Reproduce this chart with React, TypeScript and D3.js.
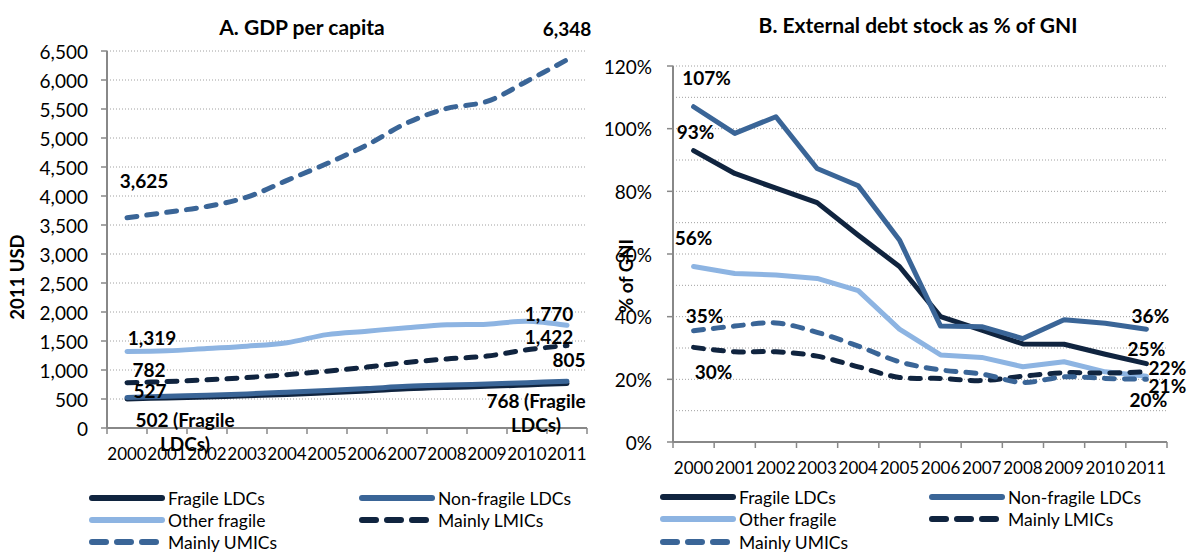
import { curveCatmullRom, curveLinear, line, scaleBand, scaleLinear } from "d3";

const years = ["2000", "2001", "2002", "2003", "2004", "2005", "2006", "2007", "2008", "2009", "2010", "2011"];

const seriesNames = ["Fragile LDCs", "Non-fragile LDCs", "Other fragile", "Mainly LMICs", "Mainly UMICs"];

// Panel A: GDP per capita, 2011 USD
const gdpFragileLdc = [502, 518, 536, 556, 578, 606, 638, 676, 700, 718, 742, 768];
const gdpNonFragileLdc = [527, 548, 566, 588, 616, 646, 680, 718, 740, 758, 782, 805];
const gdpOtherFragile = [1319, 1330, 1370, 1410, 1470, 1610, 1670, 1730, 1780, 1790, 1840, 1770];
const gdpLmic = [782, 800, 830, 870, 920, 980, 1050, 1130, 1190, 1240, 1350, 1422];
const gdpUmic = [3625, 3720, 3820, 3980, 4270, 4560, 4880, 5260, 5510, 5630, 5980, 6348];
const gdpTicks = [0, 500, 1000, 1500, 2000, 2500, 3000, 3500, 4000, 4500, 5000, 5500, 6000, 6500];

// Panel B: external debt stock, % of GNI
const debtFragileLdc = [93, 85.7, 81, 76.4, 66, 56, 40, 35.7, 31.3, 31.2, 28, 25];
const debtNonFragileLdc = [107, 98.5, 103.8, 87.3, 81.8, 64.5, 37, 36.8, 33, 39, 37.9, 36];
const debtOtherFragile = [56, 53.8, 53.3, 52.2, 48.3, 36, 27.8, 27, 24, 25.6, 22.4, 21];
const debtLmic = [30.2, 28.8, 28.8, 27.4, 24, 20.6, 20.3, 19.6, 21, 22.1, 22, 22.4];
const debtUmic = [35.5, 37, 38, 35, 30.6, 25.6, 23, 21.7, 19, 20.8, 20.3, 20];
const debtGrid = [0, 10, 20, 30, 40, 50, 60, 70, 80, 90, 100, 110, 120];
const debtTicks = [0, 20, 40, 60, 80, 100, 120];

const colors = ["#10243f", "#3a6597", "#8db4e2", "#10243f", "#3a6597"];
const dashed = [false, false, false, true, true];

const font = "Lato, 'Open Sans', sans-serif";

interface Label {
  readonly series: number;
  readonly index: number;
  readonly dx: number;
  readonly dy: number;
  readonly lines: readonly string[];
}

const gdpLabels: Label[] = [
  { series: 4, index: 0, dx: 17, dy: -38, lines: ["3,625"] },
  { series: 4, index: 11, dx: 0, dy: -32, lines: ["6,348"] },
  { series: 2, index: 0, dx: 25, dy: -14, lines: ["1,319"] },
  { series: 3, index: 0, dx: 22, dy: -14, lines: ["782"] },
  { series: 1, index: 0, dx: 23, dy: -7, lines: ["527"] },
  { series: 0, index: 0, dx: 58, dy: 20, lines: ["502 (Fragile", "LDCs)"] },
  { series: 2, index: 11, dx: -18, dy: -12, lines: ["1,770"] },
  { series: 3, index: 11, dx: -18, dy: -10, lines: ["1,422"] },
  { series: 1, index: 11, dx: 2, dy: -22, lines: ["805"] },
  { series: 0, index: 11, dx: -31, dy: 17, lines: ["768 (Fragile", "LDCs)"] }
];

const debtLabels: Label[] = [
  { series: 1, index: 0, dx: 13, dy: -30, lines: ["107%"] },
  { series: 0, index: 0, dx: 2, dy: -20, lines: ["93%"] },
  { series: 2, index: 0, dx: 0, dy: -30, lines: ["56%"] },
  { series: 4, index: 0, dx: 11, dy: -16, lines: ["35%"] },
  { series: 3, index: 0, dx: 20, dy: 24, lines: ["30%"] },
  { series: 1, index: 11, dx: 4, dy: -14, lines: ["36%"] },
  { series: 0, index: 11, dx: 0, dy: -16, lines: ["25%"] },
  { series: 3, index: 11, dx: 21, dy: -5, lines: ["22%"] },
  { series: 2, index: 11, dx: 21, dy: 9, lines: ["21%"] },
  { series: 4, index: 11, dx: 2, dy: 20, lines: ["20%"] }
];

interface PanelProps {
  readonly title: string;
  readonly titleX: number;
  readonly titleY: number;
  readonly yTitle: string;
  readonly yTitleX: number;
  readonly yTitleY: number;
  readonly left: number;
  readonly right: number;
  readonly top: number;
  readonly bottom: number;
  readonly max: number;
  readonly grid: readonly number[];
  readonly ticks: readonly number[];
  readonly tickGap: number;
  readonly format: (v: number) => string;
  readonly series: readonly (readonly number[])[];
  readonly smoothSolid: boolean;
  readonly labels: readonly Label[];
  readonly xLabelY: number;
  readonly legendX: readonly [number, number];
  readonly legendY: readonly number[];
}

function Panel(props: PanelProps): React.JSX.Element {
  const x = scaleBand<string>().domain(years).range([props.left, props.right]);
  const y = scaleLinear().domain([0, props.max]).range([props.bottom, props.top]);
  const cx = (i: number): number => (x(years[i]) ?? 0) + x.bandwidth() / 2;
  const boundaries = [...years.map((yr) => x(yr) ?? 0), props.right];

  const paths = props.series.map((values, s) => {
    const curve = dashed[s] || props.smoothSolid ? curveCatmullRom.alpha(0.5) : curveLinear;
    return (
      line<number>()
        .curve(curve)
        .x((_, i) => cx(i))
        .y((v) => y(v))(values as number[]) ?? ""
    );
  });

  return (
    <g>
      <text x={props.titleX} y={props.titleY} textAnchor="middle" dominantBaseline="central" fontSize={21} fontWeight="bold">
        {props.title}
      </text>
      {props.grid.map((g) => (
        <line
          key={`grid-${g}`}
          x1={props.left}
          x2={props.right}
          y1={y(g)}
          y2={y(g)}
          stroke="#a0a0a0"
          strokeWidth={1}
          strokeDasharray="1 2"
        />
      ))}
      {props.ticks.map((t) => (
        <g key={`tick-${t}`}>
          <line x1={props.left - 6} x2={props.left} y1={y(t)} y2={y(t)} stroke="#888" strokeWidth={1.5} />
          <text x={props.left - props.tickGap} y={y(t)} textAnchor="end" dominantBaseline="central" fontSize={19}>
            {props.format(t)}
          </text>
        </g>
      ))}
      <line x1={props.left} x2={props.left} y1={props.top} y2={props.bottom} stroke="#888" strokeWidth={2} />
      <line x1={props.left} x2={props.right} y1={props.bottom} y2={props.bottom} stroke="#888" strokeWidth={2} />
      {boundaries.map((b, i) => (
        <line key={`xt-${i}`} x1={b} x2={b} y1={props.bottom} y2={props.bottom + 6} stroke="#888" strokeWidth={1.5} />
      ))}
      {years.map((yr, i) => (
        <text key={yr} x={cx(i)} y={props.xLabelY} textAnchor="middle" dominantBaseline="central" fontSize={17}>
          {yr}
        </text>
      ))}
      <text
        transform={`translate(${props.yTitleX},${props.yTitleY}) rotate(-90)`}
        textAnchor="middle"
        dominantBaseline="central"
        fontSize={18.5}
        fontWeight="bold"
      >
        {props.yTitle}
      </text>
      {paths.map((d, s) => (
        <path
          key={seriesNames[s]}
          d={d}
          fill="none"
          stroke={colors[s]}
          strokeWidth={5}
          strokeLinecap="round"
          strokeLinejoin="round"
          strokeDasharray={dashed[s] ? "10 10" : undefined}
        />
      ))}
      {props.labels.map((lab) => {
        const px = cx(lab.index) + lab.dx;
        const py = y(props.series[lab.series][lab.index]) + lab.dy;
        return (
          <text
            key={`${lab.series}-${lab.index}`}
            x={px}
            y={py}
            textAnchor="middle"
            dominantBaseline="central"
            fontSize={19}
            fontWeight="bold"
          >
            {lab.lines.map((ln, k) => (
              <tspan key={ln} x={px} dy={k === 0 ? 0 : 24}>
                {ln}
              </tspan>
            ))}
          </text>
        );
      })}
      {seriesNames.map((name, s) => {
        const col = s % 2;
        const row = Math.floor(s / 2);
        const lx = props.legendX[col];
        const ly = props.legendY[row];
        return (
          <g key={`leg-${name}`}>
            <line
              x1={lx}
              x2={lx + 70}
              y1={ly}
              y2={ly}
              stroke={colors[s]}
              strokeWidth={6}
              strokeLinecap="round"
              strokeDasharray={dashed[s] ? "14 11" : undefined}
            />
            <text x={lx + 76} y={ly} dominantBaseline="central" fontSize={17.5}>
              {name}
            </text>
          </g>
        );
      })}
    </g>
  );
}

export default function App(): React.JSX.Element {
  return (
    <svg
      width={1188}
      height={552}
      viewBox="0 0 1188 552"
      style={{ position: "absolute", left: 0, top: 0, background: "#fff", fontFamily: font }}
    >
      <Panel
        title="A. GDP per capita"
        titleX={302}
        titleY={26}
        yTitle="2011 USD"
        yTitleX={17}
        yTitleY={277}
        left={107}
        right={587}
        top={51}
        bottom={428}
        max={6500}
        grid={gdpTicks.filter((t) => t > 0)}
        ticks={gdpTicks}
        tickGap={19}
        format={(v) => v.toLocaleString("en-US")}
        series={[gdpFragileLdc, gdpNonFragileLdc, gdpOtherFragile, gdpLmic, gdpUmic]}
        smoothSolid={true}
        labels={gdpLabels}
        xLabelY={453}
        legendX={[92, 362]}
        legendY={[498, 520, 542]}
      />
      <Panel
        title="B. External debt stock as % of GNI"
        titleX={918}
        titleY={24}
        yTitle="% of GNI"
        yTitleX={626}
        yTitleY={276}
        left={673}
        right={1167}
        top={66}
        bottom={442}
        max={120}
        grid={debtGrid.filter((t) => t > 0)}
        ticks={debtTicks}
        tickGap={21}
        format={(v) => `${v}%`}
        series={[debtFragileLdc, debtNonFragileLdc, debtOtherFragile, debtLmic, debtUmic]}
        smoothSolid={false}
        labels={debtLabels}
        xLabelY={467}
        legendX={[663, 932]}
        legendY={[497, 519, 542]}
      />
    </svg>
  );
}
